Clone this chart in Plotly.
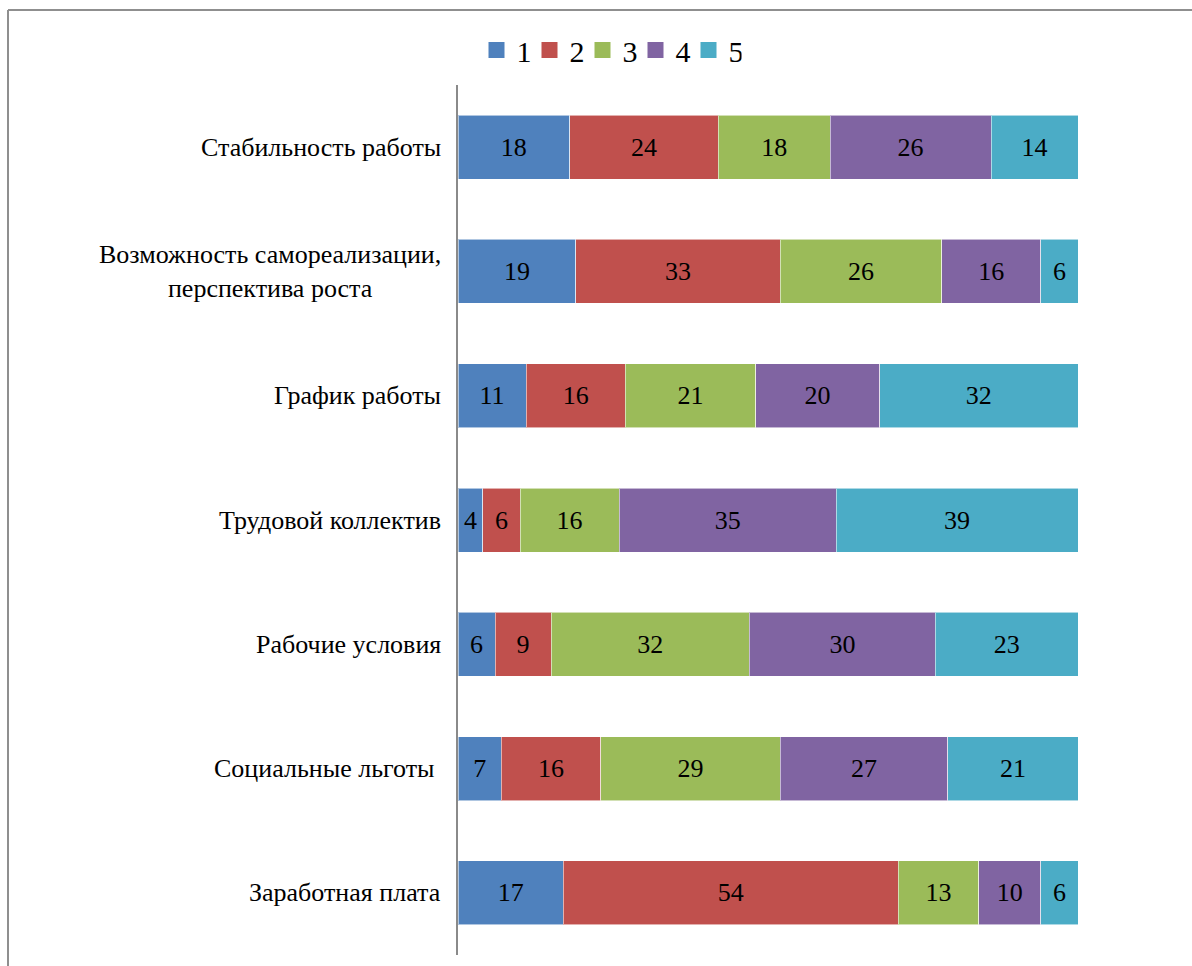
import plotly.graph_objects as go

categories = ["Стабильность работы", "Возможность самореализации", "График работы",
              "Трудовой коллектив", "Рабочие условия", "Социальные льготы", "Заработная плата"]
category_labels = ["Стабильность работы", "Возможность самореализации,<br>перспектива роста",
                   "График работы", "Трудовой коллектив", "Рабочие условия",
                   "Социальные льготы\u00a0", "Заработная плата"]
series_names = ["1", "2", "3", "4", "5"]
s1 = [18, 19, 11, 4, 6, 7, 17]
s2 = [24, 33, 16, 6, 9, 16, 54]
s3 = [18, 26, 21, 16, 32, 29, 13]
s4 = [26, 16, 20, 35, 30, 27, 10]
s5 = [14, 6, 32, 39, 23, 21, 6]
series_values = [s1, s2, s3, s4, s5]
colors = ["#4F81BD", "#C0504D", "#9BBB59", "#8064A2", "#4BACC6"]

FONT = "Liberation Serif, Times New Roman, serif"
W, H = 1192, 966
L, R, T, B = 458, 114, 85, 11

fig = go.Figure()
for name, vals, col in zip(series_names, series_values, colors):
    fig.add_trace(go.Bar(
        y=categories, x=vals, name=name, orientation="h", showlegend=False,
        marker=dict(color=col, line=dict(color="rgba(255,255,255,0.55)", width=1)),
        text=vals, texttemplate="%{x}", textposition="inside",
        insidetextanchor="middle", textangle=0,
        textfont=dict(family=FONT, size=26, color="black"),
        hoverinfo="skip",
    ))
# legend entries with square keys
for name, col in zip(series_names, colors):
    fig.add_trace(go.Scatter(x=[None], y=[None], mode="markers", name=name,
                             marker=dict(symbol="square", size=16, color=col),
                             hoverinfo="skip"))

for cat, lab in zip(categories, category_labels):
    fig.add_annotation(x=(443 - L) / (W - L - R), xref="paper", y=cat, yref="y", text=lab,
                       showarrow=False, xanchor="right", yanchor="middle", align="center",
                       font=dict(family=FONT, size=26, color="black"))

pw, ph = W - L - R, H - T - B
# outer chart frame (left and top edges visible)
fig.add_shape(type="line", xref="paper", yref="paper",
              x0=(8 - L) / pw, x1=(W + 5 - L) / pw, y0=(H - B - 10) / ph, y1=(H - B - 10) / ph,
              line=dict(color="#8f8f8f", width=2))
fig.add_shape(type="line", xref="paper", yref="paper",
              x0=(8 - L) / pw, x1=(8 - L) / pw, y0=(H - B - 10) / ph, y1=-0.05,
              line=dict(color="#8f8f8f", width=2))

fig.update_layout(
    width=W, height=H, barmode="stack", bargap=0.485,
    margin=dict(l=L, r=R, t=T, b=B),
    paper_bgcolor="white", plot_bgcolor="white",
    font=dict(family=FONT, size=26, color="black"),
    showlegend=True,
    legend=dict(orientation="h", x=(609 - L) / pw, xanchor="center",
                y=(H - B - 50) / ph, yanchor="middle",
                font=dict(family=FONT, size=30, color="black"),
                traceorder="normal", itemwidth=30, entrywidth=8,
                bgcolor="rgba(0,0,0,0)"),
    xaxis=dict(range=[0, 100], visible=False, showgrid=False, zeroline=False),
    yaxis=dict(autorange="reversed", showticklabels=False, showgrid=False, zeroline=False,
               showline=True, linecolor="#8a8a8a", linewidth=2, ticks=""),
)

fig.write_html("out.html")
